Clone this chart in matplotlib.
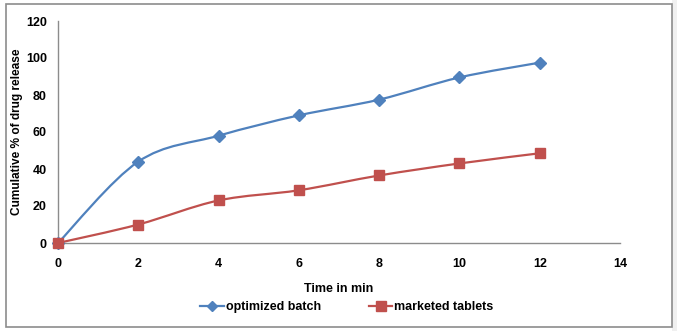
import numpy as np
import matplotlib
matplotlib.use("Agg")
import matplotlib.pyplot as plt
from matplotlib.path import Path
from matplotlib.patches import PathPatch, Rectangle
from matplotlib.lines import Line2D

plt.rcParams['font.family'] = ['Liberation Sans', 'DejaVu Sans']
plt.rcParams['font.weight'] = 'bold'

time_min = [0, 2, 4, 6, 8, 10, 12]
optimized = [0, 44, 58, 69, 77.5, 89.5, 97.5]
marketed = [0, 10, 23, 28.5, 36.5, 43, 48.5]
x_ticks = [0, 2, 4, 6, 8, 10, 12, 14]
y_ticks = [0, 20, 40, 60, 80, 100, 120]

blue = '#4F81BD'
red = '#C0504D'


def smooth_path(xs, ys, t=1/6.0):
    # Excel-like smoothed line: cubic bezier through the points
    pts = np.column_stack([xs, ys]).astype(float)
    verts = [pts[0]]
    codes = [Path.MOVETO]
    n = len(pts)
    for i in range(n - 1):
        p0 = pts[i - 1] if i > 0 else pts[i]
        p1 = pts[i]
        p2 = pts[i + 1]
        p3 = pts[i + 2] if i + 2 < n else pts[i + 1]
        c1 = p1 + (p2 - p0) * t
        c2 = p2 - (p3 - p1) * t
        verts += [c1, c2, p2]
        codes += [Path.CURVE4] * 3
    return Path(verts, codes)


fig = plt.figure(figsize=(6.77, 3.31), dpi=100)
fig.patch.set_facecolor('white')
fig.patches.append(Rectangle((672 / 677, 0), 5 / 677, 1, transform=fig.transFigure,
                             facecolor='#f0f0f0', edgecolor='none', zorder=0))
fig.patches.append(Rectangle((6 / 677, 4 / 331), 666 / 677, 323 / 331, transform=fig.transFigure,
                             facecolor='none', edgecolor='#8c8c8c', lw=1.2, zorder=1))

ax = fig.add_axes([58 / 677, 1 - 243 / 331, 562 / 677, 222 / 331])
ax.set_xlim(0, 14)
ax.set_ylim(0, 120)

for ys, col, mk, ms in [(optimized, blue, 'D', 6), (marketed, red, 's', 7.5)]:
    ax.add_patch(PathPatch(smooth_path(time_min, ys), facecolor='none', edgecolor=col,
                           lw=1.6, clip_on=False, zorder=3))
    ax.plot(time_min, ys, linestyle='none', marker=mk, ms=ms, color=col,
            clip_on=False, zorder=4)

ax.set_xticks(x_ticks)
ax.set_yticks(y_ticks)
ax.tick_params(length=0, labelsize=9)
ax.tick_params(axis='x', pad=11)
ax.tick_params(axis='y', pad=8)
for lab in ax.get_xticklabels() + ax.get_yticklabels():
    lab.set_fontweight('bold')
for s in ['top', 'right']:
    ax.spines[s].set_visible(False)
for s in ['left', 'bottom']:
    ax.spines[s].set_color('#8c8c8c')
    ax.spines[s].set_linewidth(1)

ax.set_xlabel('Time in min', fontsize=9, fontweight='bold', labelpad=9)
ax.set_ylabel('Cumulative % of drug release', fontsize=8.6, fontweight='bold', labelpad=2)

handles = [Line2D([], [], color=blue, marker='D', ms=5, lw=1.6),
           Line2D([], [], color=red, marker='s', ms=6.5, lw=1.6)]
fig.legend(handles, ['optimized batch', 'marketed tablets'], loc='center',
           bbox_to_anchor=(347 / 677, 1 - 307 / 331), ncol=2, frameon=False,
           handlelength=1.9, handletextpad=0.15, columnspacing=3.8,
           prop={'weight': 'bold', 'size': 9})

fig.savefig('out.png', dpi=100)
